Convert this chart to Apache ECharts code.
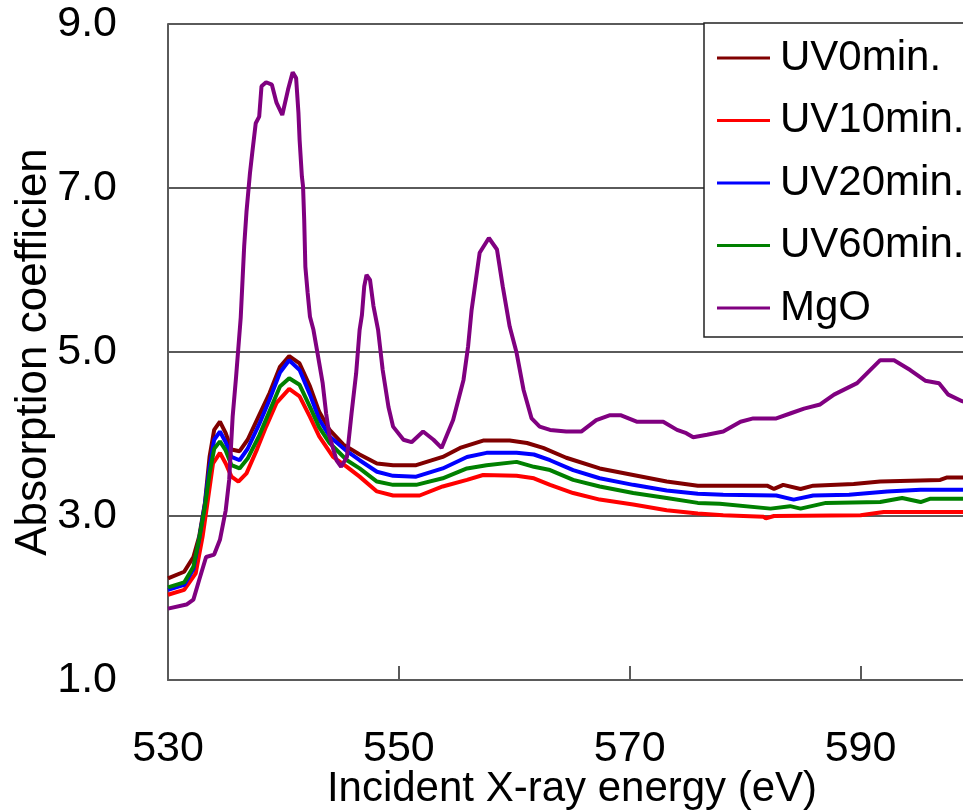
<!DOCTYPE html>
<html>
<head>
    <meta charset="utf-8" />
    <title>XAS O K-edge</title>
    <script src="https://cdn.jsdelivr.net/npm/echarts/dist/echarts.min.js"></script>
    <style>
        body { margin: 0; background: #fff; }
    </style>
</head>
<body>
<div id="main" style="width: 963px;height:811px;"></div>

<script type="text/javascript">
    // x ticks / y ticks
    var xTicks = [530, 550, 570, 590];
    var yTicks = [1.0, 3.0, 5.0, 7.0, 9.0];

    // UV0min.
    var eUV0 = [530, 531.4, 532.2, 532.7, 533.2, 533.6, 534.0, 534.5, 535.0, 535.5, 536.2, 536.9, 537.9, 538.8, 539.7,
        540.5, 541.4, 542.3, 543.1, 544.0, 545.2, 546.6, 548.1, 549.5, 551.5, 553.8, 555.3, 557.3, 559.6, 561.1,
        562.5, 564.5, 567.4, 570.3, 573.2, 575.9, 577.8, 581.9, 582.5, 583.3, 584.8, 585.9, 589.4, 591.7, 596.9,
        597.5, 599.5];
    var uv0 = [2.24, 2.32, 2.50, 2.75, 3.16, 3.72, 4.05, 4.15, 4.01, 3.81, 3.79, 3.93, 4.23, 4.50, 4.82,
        4.95, 4.86, 4.58, 4.27, 4.05, 3.87, 3.75, 3.64, 3.62, 3.62, 3.72, 3.83, 3.92, 3.92, 3.89,
        3.83, 3.71, 3.58, 3.50, 3.42, 3.37, 3.37, 3.37, 3.33, 3.38, 3.33, 3.37, 3.39, 3.42, 3.44,
        3.47, 3.47];

    // UV10min.
    var eUV10 = [530, 531.4, 532.4, 533.0, 533.5, 533.9, 534.5, 535.0, 535.5, 536.1, 536.8, 537.7, 538.5, 539.4,
        540.5, 541.4, 542.3, 543.1, 544.3, 545.5, 546.6, 548.1, 549.5, 551.8, 553.8, 555.9, 557.3, 560.2, 561.7,
        563.1, 565.1, 567.4, 570.3, 573.2, 575.9, 578.1, 581.6, 581.8, 582.5, 590.0, 592.0, 599.5];
    var uv10 = [2.04, 2.10, 2.30, 2.75, 3.24, 3.64, 3.77, 3.64, 3.48, 3.42, 3.52, 3.81, 4.09, 4.38,
        4.55, 4.46, 4.21, 3.97, 3.72, 3.60, 3.48, 3.30, 3.25, 3.25, 3.36, 3.44, 3.50, 3.49, 3.46,
        3.38, 3.28, 3.20, 3.14, 3.07, 3.03, 3.01, 2.99, 2.97, 3.00, 3.01, 3.05, 3.05];

    // UV20min.
    var eUV20 = [530, 531.4, 532.2, 532.7, 533.2, 533.6, 534.0, 534.5, 535.0, 535.5, 536.2, 536.9, 537.9, 538.8,
        539.7, 540.5, 541.4, 542.3, 543.1, 544.0, 545.5, 546.6, 548.1, 549.5, 551.5, 553.8, 555.9, 557.6, 560.2,
        561.7, 563.1, 565.1, 567.4, 570.3, 573.2, 575.9, 578.1, 582.7, 584.2, 585.9, 589.0, 592.3, 595.2, 599.5];
    var uv20 = [2.10, 2.16, 2.35, 2.72, 3.15, 3.60, 3.93, 4.03, 3.90, 3.72, 3.68, 3.82, 4.12, 4.42,
        4.75, 4.90, 4.78, 4.48, 4.18, 3.97, 3.79, 3.68, 3.54, 3.49, 3.48, 3.58, 3.72, 3.77, 3.77,
        3.75, 3.68, 3.56, 3.46, 3.38, 3.31, 3.27, 3.26, 3.25, 3.20, 3.25, 3.26, 3.30, 3.32, 3.32];

    // UV60min.
    var eUV60 = [530, 531.4, 532.2, 532.7, 533.2, 533.6, 534.0, 534.5, 535.0, 535.5, 536.2, 536.9, 537.9, 538.8,
        539.7, 540.5, 541.4, 542.3, 543.1, 544.0, 545.5, 546.6, 548.1, 549.5, 551.5, 553.8, 555.9, 557.6, 560.2,
        561.7, 563.1, 565.1, 567.4, 570.3, 573.2, 575.9, 577.8, 582.2, 583.9, 584.8, 587.0, 591.7, 593.6, 595.2,
        596.0, 599.5];
    var uv60 = [2.13, 2.19, 2.38, 2.72, 3.12, 3.52, 3.82, 3.91, 3.80, 3.62, 3.58, 3.70, 3.98, 4.28,
        4.58, 4.68, 4.60, 4.33, 4.08, 3.89, 3.68, 3.58, 3.42, 3.38, 3.38, 3.46, 3.58, 3.62, 3.66,
        3.60, 3.56, 3.44, 3.36, 3.28, 3.22, 3.16, 3.15, 3.09, 3.12, 3.09, 3.16, 3.17, 3.22, 3.17,
        3.21, 3.21];

    // MgO
    var eMgO = [530, 531.6, 532.2, 532.7, 533.3, 534.0, 534.5, 535.0, 535.3, 535.6, 535.9, 536.3, 536.6, 536.8,
        537.1, 537.3, 537.6, 537.9, 538.1, 538.5, 539.0, 539.4, 539.9, 540.4, 540.8, 541.1, 541.3, 541.4, 541.6,
        541.7, 541.8, 541.9, 542.1, 542.3, 542.6, 542.9, 543.4, 543.7, 544.0, 544.6, 545.0, 545.5, 545.9, 546.3,
        546.6, 546.8, 547.0, 547.2, 547.5, 547.8, 548.2, 548.6, 549.1, 549.5, 550.4, 551.1, 552.1, 553.0, 553.7,
        554.7, 555.6, 556.0, 556.3, 557.0, 557.8, 558.5, 559.0, 559.6, 560.2, 560.8, 561.5, 562.2, 563.1, 564.5,
        565.8, 567.1, 568.3, 569.2, 570.6, 572.9, 574.1, 574.9, 575.5, 576.7, 578.1, 579.6, 580.7, 582.7, 583.9,
        585.1, 586.5, 587.7, 589.7, 591.7, 592.9, 594.3, 595.6, 596.8, 597.6, 598.8, 599.5];
    var mgo = [1.87, 1.92, 1.98, 2.22, 2.50, 2.53, 2.71, 3.07, 3.44, 4.21, 4.70, 5.42, 6.29, 6.71,
        7.18, 7.43, 7.79, 7.87, 8.24, 8.29, 8.26, 8.04, 7.89, 8.20, 8.41, 8.34, 7.92, 7.59, 7.14,
        7.02, 6.61, 6.04, 5.72, 5.43, 5.27, 5.03, 4.62, 4.25, 3.97, 3.68, 3.60, 3.72, 4.25, 4.74,
        5.27, 5.45, 5.80, 5.94, 5.88, 5.56, 5.27, 4.78, 4.33, 4.09, 3.93, 3.90, 4.03, 3.93, 3.83,
        4.17, 4.66, 5.07, 5.51, 6.21, 6.39, 6.25, 5.80, 5.31, 4.99, 4.54, 4.19, 4.09, 4.05, 4.03,
        4.03, 4.17, 4.23, 4.23, 4.15, 4.15, 4.05, 4.01, 3.96, 3.99, 4.03, 4.15, 4.19, 4.19, 4.25,
        4.31, 4.36, 4.48, 4.62, 4.90, 4.90, 4.78, 4.65, 4.62, 4.48, 4.40, 4.37];

    function pairs(xs, ys) {
        return xs.map(function (x, i) { return [x, ys[i]]; });
    }

    var font = 'Liberation Sans, Arial, sans-serif';
    var axisColor = '#5a5a5a';

    var myChart = echarts.init(document.getElementById('main'));

    function mkSeries(name, color, xs, ys) {
        return {
            name: name,
            type: 'line',
            data: pairs(xs, ys),
            symbol: 'none',
            lineStyle: { color: color, width: 4 },
            itemStyle: { color: color },
            animation: false
        };
    }

    var option = {
        animation: false,
        grid: { left: 168, top: 24, bottom: 131, right: -13, outerBoundsMode: 'none', containLabel: false },
        legend: {
            orient: 'vertical',
            left: 704,
            top: 23,
            icon: 'rect',
            itemWidth: 53,
            itemHeight: 3,
            itemGap: 20.5,
            padding: [14, 12, 8, 13],
            backgroundColor: '#fff',
            borderColor: '#222',
            borderWidth: 1.5,
            borderRadius: 0,
            textStyle: { fontFamily: font, fontSize: 42, lineHeight: 42, color: '#000', padding: [0, 0, 0, 5] },
            data: ['UV0min.', 'UV10min.', 'UV20min.', 'UV60min.', 'MgO']
        },
        xAxis: {
            type: 'value',
            min: 530,
            max: 600,
            interval: 20,
            name: 'Incident X-ray energy (eV)',
            nameLocation: 'middle',
            nameGap: 88,
            nameMoveOverlap: false,
            nameTextStyle: { fontFamily: font, fontSize: 42, color: '#000' },
            axisLine: { show: true, lineStyle: { color: axisColor, width: 2 } },
            axisTick: { show: true, inside: true, length: 14, lineStyle: { color: axisColor, width: 2 } },
            axisLabel: {
                fontFamily: font, fontSize: 43, color: '#000', margin: 48, showMaxLabel: false,
                formatter: function (v) { return xTicks.indexOf(v) >= 0 ? String(v) : ''; }
            },
            splitLine: { show: false }
        },
        yAxis: {
            type: 'value',
            min: 1,
            max: 9,
            interval: 2,
            name: 'Absorption coefficien',
            nameLocation: 'middle',
            nameGap: 112,
            nameMoveOverlap: false,
            nameTextStyle: { fontFamily: font, fontSize: 44, color: '#000' },
            axisLine: { show: true, lineStyle: { color: axisColor, width: 2 } },
            axisTick: { show: false },
            axisLabel: {
                fontFamily: font, fontSize: 43, color: '#000', margin: 51,
                formatter: function (v) { return yTicks.indexOf(v) >= 0 ? v.toFixed(1) : ''; }
            },
            splitLine: { show: true, lineStyle: { color: axisColor, width: 2 } }
        },
        series: [
            mkSeries('UV0min.', '#800000', eUV0, uv0),
            mkSeries('UV10min.', '#ff0000', eUV10, uv10),
            mkSeries('UV20min.', '#0000ff', eUV20, uv20),
            mkSeries('UV60min.', '#008000', eUV60, uv60),
            mkSeries('MgO', '#800080', eMgO, mgo)
        ]
    };

    myChart.setOption(option);
</script>
</body>
</html>
